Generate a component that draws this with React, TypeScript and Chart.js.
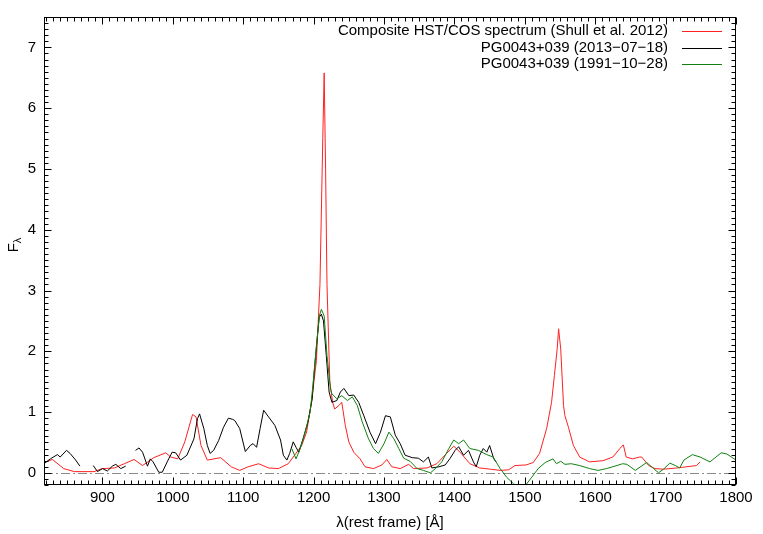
import { useEffect, useRef } from "react";
import { Chart, registerables } from "chart.js";

Chart.register(...registerables);

// Composite HST/COS spectrum (Shull et al. 2012)
const compositeWave = [817, 829, 845, 860, 888, 900, 917, 931, 945, 957, 973, 990, 997, 1007, 1017, 1028, 1033, 1040, 1049, 1068, 1083, 1095, 1107, 1122, 1136, 1150, 1164, 1173, 1183, 1190, 1197, 1204, 1209, 1213, 1215, 1217, 1219, 1223, 1227, 1230, 1237, 1240, 1245, 1250, 1257, 1266, 1273, 1285, 1297, 1304, 1311, 1323, 1335, 1342, 1361, 1375, 1389, 1399, 1408, 1422, 1436, 1451, 1465, 1477, 1486, 1502, 1512, 1521, 1531, 1538, 1542, 1546, 1548, 1551, 1555, 1557, 1562, 1569, 1578, 1592, 1611, 1625, 1635, 1640, 1644, 1653, 1663, 1666, 1676, 1685, 1697, 1716, 1744, 1749];
const compositeFlux = [0.17, 0.22, 0.07, 0.02, 0.02, 0.07, 0.08, 0.15, 0.22, 0.12, 0.25, 0.33, 0.26, 0.23, 0.51, 0.96, 0.92, 0.45, 0.21, 0.25, 0.10, 0.04, 0.10, 0.15, 0.08, 0.07, 0.15, 0.29, 0.45, 0.67, 1.16, 1.85, 3.1, 5.5, 6.58, 5.0, 3.1, 1.5, 1.16, 1.05, 1.12, 1.16, 0.78, 0.51, 0.34, 0.23, 0.10, 0.07, 0.13, 0.22, 0.10, 0.07, 0.14, 0.07, 0.08, 0.15, 0.32, 0.44, 0.34, 0.15, 0.08, 0.06, 0.04, 0.05, 0.12, 0.13, 0.17, 0.32, 0.73, 1.16, 1.6, 2.04, 2.37, 2.04, 1.11, 0.94, 0.75, 0.45, 0.26, 0.18, 0.20, 0.26, 0.40, 0.46, 0.26, 0.23, 0.26, 0.26, 0.12, 0.07, 0.06, 0.08, 0.12, 0.18];

// PG0043+039 (2013-07-18), null = gap in coverage
const obs2013Wave = [817, 826, 836, 840, 849, 854, 862, 868, 875, 887, 893, 900, 907, 914, 919, 926, 933, 940, 947, 952, 957, 964, 968, 972, 980, 985, 992, 999, 1004, 1011, 1020, 1030, 1035, 1038, 1044, 1049, 1053, 1058, 1065, 1072, 1079, 1085, 1088, 1095, 1103, 1110, 1114, 1119, 1124, 1129, 1136, 1145, 1153, 1157, 1162, 1166, 1171, 1175, 1179, 1185, 1192, 1198, 1201, 1205, 1208, 1211, 1214, 1218, 1222, 1226, 1233, 1238, 1243, 1250, 1257, 1264, 1271, 1280, 1288, 1295, 1302, 1309, 1316, 1323, 1330, 1340, 1349, 1356, 1363, 1368, 1378, 1387, 1394, 1401, 1406, 1413, 1420, 1427, 1431, 1436, 1441, 1446, 1450, 1456, 1459];
const obs2013Flux = [0.15, 0.23, 0.30, 0.26, 0.37, 0.32, 0.21, 0.11, null, 0.12, 0.02, 0.07, 0.03, 0.11, 0.14, 0.07, 0.11, null, 0.37, 0.41, 0.34, 0.11, 0.23, 0.18, 0.01, 0.01, 0.18, 0.34, 0.33, 0.21, 0.29, 0.56, 0.89, 0.97, 0.73, 0.45, 0.32, 0.37, 0.53, 0.75, 0.90, 0.88, 0.86, 0.73, 0.35, 0.45, 0.48, 0.42, 0.73, 1.03, 0.92, 0.78, 0.54, 0.29, 0.21, 0.32, 0.51, 0.42, 0.34, 0.56, 0.84, 1.22, 1.68, 2.2, 2.56, 2.61, 2.5, 1.93, 1.33, 1.16, 1.19, 1.33, 1.39, 1.27, 1.28, 1.16, 0.95, 0.67, 0.48, 0.67, 0.94, 0.92, 0.62, 0.48, 0.29, 0.25, 0.24, 0.18, 0.26, 0.08, 0.10, 0.13, 0.24, 0.37, 0.43, 0.29, 0.37, 0.18, 0.10, 0.29, 0.40, 0.34, 0.45, 0.23, 0.18];

// PG0043+039 (1991-10-28)
const obs1991Wave = [1169, 1175, 1181, 1188, 1195, 1199, 1204, 1208, 1211, 1215, 1219, 1224, 1226, 1233, 1240, 1248, 1255, 1262, 1269, 1278, 1285, 1292, 1300, 1307, 1314, 1321, 1328, 1337, 1347, 1356, 1366, 1373, 1382, 1392, 1399, 1406, 1413, 1422, 1434, 1446, 1455, 1465, 1474, 1484, 1491, 1500, 1510, 1519, 1529, 1540, 1545, 1551, 1557, 1566, 1578, 1592, 1604, 1616, 1625, 1639, 1645, 1657, 1673, 1683, 1690, 1697, 1706, 1714, 1720, 1726, 1738, 1749, 1763, 1779, 1787, 1800];
const obs1991Flux = [0.40, 0.23, 0.40, 0.67, 1.0, 1.44, 2.09, 2.58, 2.69, 2.58, 1.93, 1.38, 1.30, 1.22, 1.27, 1.19, 1.25, 1.11, 0.84, 0.56, 0.40, 0.32, 0.48, 0.67, 0.56, 0.40, 0.24, 0.19, 0.07, 0.04, 0.0, 0.07, 0.18, 0.40, 0.54, 0.48, 0.54, 0.40, 0.37, 0.30, 0.26, 0.07, -0.07, -0.18, -0.23, -0.22, -0.07, 0.07, 0.17, 0.23, 0.15, 0.19, 0.14, 0.15, 0.12, 0.07, 0.04, 0.07, 0.10, 0.15, 0.14, 0.04, 0.17, 0.07, 0.0, 0.06, 0.16, 0.12, 0.08, 0.21, 0.30, 0.26, 0.18, 0.33, 0.31, 0.21];

const seriesLabels = [
  "Composite HST/COS spectrum (Shull et al. 2012)",
  "PG0043+039 (2013\u221207\u221218)",
  "PG0043+039 (1991\u221210\u221228)",
];
const seriesColors = ["#ff2020", "#000000", "#108010"];

const xTickValues = [900, 1000, 1100, 1200, 1300, 1400, 1500, 1600, 1700, 1800];
const yTickValues = [0, 1, 2, 3, 4, 5, 6, 7];
const xTitle = "\u03bb(rest frame) [\u00c5]";

const FONT = "'Liberation Sans', Arial, Helvetica, sans-serif";
const FS = 15;

function pts(xs: number[], ys: (number | null)[]) {
  return xs.map((x, i) => ({ x, y: ys[i] }));
}

const framePlugin = {
  id: "frame",
  beforeDatasetsDraw(chart: any) {
    const { ctx, chartArea: a, scales } = chart;
    const y0 = Math.round(scales.y.getPixelForValue(0)) + 0.5;
    ctx.save();
    ctx.strokeStyle = "#8a8a8a";
    ctx.lineWidth = 1;
    ctx.setLineDash([9, 3, 2, 3]);
    ctx.beginPath();
    ctx.moveTo(a.left, y0);
    ctx.lineTo(a.right, y0);
    ctx.stroke();
    ctx.restore();
  },
  afterDraw(chart: any) {
    const { ctx, chartArea: a, scales } = chart;
    const xs = scales.x;
    const ys = scales.y;
    ctx.save();
    ctx.strokeStyle = "#000";
    ctx.lineWidth = 1;
    ctx.setLineDash([]);
    const L = Math.round(a.left) + 0.5;
    const R = Math.round(a.right) - 0.5;
    const T = Math.round(a.top) + 0.5;
    const B = Math.round(a.bottom) - 0.5;
    ctx.strokeRect(L, T, R - L, B - T);
    ctx.beginPath();
    for (let v = 820; v <= 1800; v += 10) {
      const px = Math.round(xs.getPixelForValue(v)) + 0.5;
      const len = v % 100 === 0 ? 7 : 4;
      ctx.moveTo(px, B);
      ctx.lineTo(px, B - len);
      ctx.moveTo(px, T);
      ctx.lineTo(px, T + len);
    }
    for (let i = -2; i <= 75; i++) {
      const py = Math.round(ys.getPixelForValue(i / 10)) + 0.5;
      const len = i % 10 === 0 ? 7 : 4;
      ctx.moveTo(L, py);
      ctx.lineTo(L + len, py);
      ctx.moveTo(R, py);
      ctx.lineTo(R - len, py);
    }
    ctx.stroke();

    // legend
    ctx.font = `${FS}px ${FONT}`;
    ctx.textAlign = "right";
    ctx.textBaseline = "middle";
    const rows = [31, 48, 64];
    seriesLabels.forEach((lab, i) => {
      ctx.fillStyle = "#000";
      ctx.fillText(lab, 668, rows[i]);
      ctx.strokeStyle = seriesColors[i];
      ctx.beginPath();
      ctx.moveTo(682, rows[i] + 0.5);
      ctx.lineTo(722, rows[i] + 0.5);
      ctx.stroke();
    });

    // x title
    ctx.fillStyle = "#000";
    ctx.textAlign = "center";
    ctx.textBaseline = "middle";
    ctx.fillText(xTitle, (a.left + a.right) / 2, 523);

    // y title F_lambda
    ctx.translate(14, 245);
    ctx.rotate(-Math.PI / 2);
    ctx.font = `${FS}px ${FONT}`;
    const wF = ctx.measureText("F").width;
    ctx.font = `11px ${FONT}`;
    const wL = ctx.measureText("\u03bb").width;
    const start = -(wF + wL) / 2;
    ctx.textAlign = "left";
    ctx.font = `${FS}px ${FONT}`;
    ctx.fillText("F", start, 0);
    ctx.font = `11px ${FONT}`;
    ctx.fillText("\u03bb", start + wF, 4);
    ctx.restore();
  },
};

export default function App() {
  const ref = useRef<HTMLCanvasElement | null>(null);
  useEffect(() => {
    document.body.style.margin = "0";
    const canvas = ref.current!;
    const data = [
      pts(compositeWave, compositeFlux),
      pts(obs2013Wave, obs2013Flux),
      pts(obs1991Wave, obs1991Flux),
    ];
    const chart = new Chart(canvas, {
      type: "line",
      data: {
        datasets: data.map((d, i) => ({
          label: seriesLabels[i],
          data: d as any,
          borderColor: seriesColors[i],
          borderWidth: 1,
          pointRadius: 0,
          tension: 0,
          fill: false,
          spanGaps: false,
          order: 2 - i,
        })),
      },
      options: {
        animation: false,
        responsive: false,
        devicePixelRatio: 1,
        layout: { padding: { left: 0, right: 27, top: 17, bottom: 0 } },
        plugins: { legend: { display: false }, tooltip: { enabled: false } },
        scales: {
          x: {
            type: "linear",
            min: 817,
            max: 1800,
            grid: { display: false, drawTicks: false },
            border: { display: false },
            afterBuildTicks: (s: any) => {
              s.ticks = xTickValues.map((v) => ({ value: v }));
            },
            afterFit: (s: any) => {
              s.height = 49;
            },
            ticks: {
              color: "#000",
              font: { size: FS, family: FONT },
              padding: 4,
              maxRotation: 0,
              autoSkip: false,
              callback: (v: any) => String(v),
            },
          },
          y: {
            type: "linear",
            min: -0.2,
            max: 7.5,
            grid: { display: false, drawTicks: false },
            border: { display: false },
            afterBuildTicks: (s: any) => {
              s.ticks = yTickValues.map((v) => ({ value: v }));
            },
            afterFit: (s: any) => {
              s.width = 44;
            },
            ticks: {
              color: "#000",
              font: { size: FS, family: FONT },
              padding: 8,
              autoSkip: false,
              callback: (v: any) => String(v),
            },
          },
        },
      },
      plugins: [framePlugin],
    });
    return () => chart.destroy();
  }, []);
  return (
    <div style={{ width: 763, height: 534 }}>
      <canvas ref={ref} width={763} height={534} style={{ width: 763, height: 534, display: "block" }} />
    </div>
  );
}
